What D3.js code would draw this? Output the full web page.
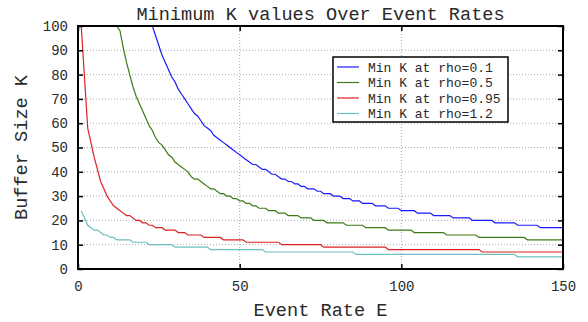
<!DOCTYPE html>
<html>
<head>
<meta charset="utf-8">
<script src="https://cdn.jsdelivr.net/npm/d3@7"></script>
<style>
  body { margin: 0; background: #fff; }
  text { font-family: "Liberation Mono", "DejaVu Sans Mono", monospace; fill: #2a2a2a; }
</style>
</head>
<body>
<script>
// Minimum K (buffer size) per event rate E.
// Each list holds [E, K] vertices; flat runs only keep their two ends.
const rho01 = [[1,100],[23,100],[24,96],[25,92],[26,88],[27,85],[28,82],[29,79],[30,77],[31,74],[32,72],
  [33,70],[34,68],[35,66],[36,64],[37,63],[38,61],[39,59],[40,58],[41,57],[42,55],[43,54],[44,53],[45,52],
  [46,51],[47,50],[48,49],[49,48],[50,47],[51,46],[52,45],[53,44],[54,43],[55,43],[56,42],[57,41],[58,41],
  [59,40],[60,39],[61,39],[62,38],[63,37],[64,37],[65,36],[66,36],[67,35],[68,35],[69,34],[70,34],[71,33],
  [73,33],[74,32],[75,32],[76,31],[78,31],[79,30],[81,30],[82,29],[84,29],[85,28],[87,28],[88,27],[91,27],
  [92,26],[95,26],[96,25],[99,25],[100,24],[104,24],[105,23],[109,23],[110,22],[115,22],[116,21],[121,21],
  [122,20],[128,20],[129,19],[135,19],[136,18],[142,18],[143,17],[150,17]];
const rho05 = [[1,100],[12,100],[13,98],[14,91],[15,85],[16,80],[17,75],[18,71],[19,68],[20,65],[21,62],
  [22,59],[23,57],[24,54],[25,52],[26,51],[27,49],[28,47],[29,46],[30,44],[31,43],[32,42],[33,41],[34,40],
  [35,38],[36,37],[37,37],[38,36],[39,35],[40,34],[41,33],[42,33],[43,32],[44,31],[45,31],[46,30],[47,30],
  [48,29],[49,29],[50,28],[51,28],[52,27],[53,27],[54,26],[55,26],[56,25],[58,25],[59,24],[61,24],[62,23],
  [64,23],[65,22],[68,22],[69,21],[72,21],[73,20],[76,20],[77,19],[82,19],[83,18],[88,18],[89,17],[95,17],
  [96,16],[103,16],[104,15],[113,15],[114,14],[123,14],[124,13],[138,13],[139,12],[150,12]];
const rho095 = [[1,100],[2,79],[3,58],[4,52],[5,46],[6,41],[7,36],[8,33],[9,30],[10,28],[11,26],[12,25],
  [13,24],[14,23],[15,22],[16,22],[17,21],[18,20],[19,20],[20,19],[21,19],[22,18],[23,18],[24,17],[26,17],
  [27,16],[30,16],[31,15],[33,15],[34,14],[38,14],[39,13],[44,13],[45,12],[51,12],[52,11],[62,11],[63,10],
  [75,10],[76,9],[95,9],[96,8],[124,8],[125,7],[150,7]];
const rho12 = [[1,24],[2,21],[3,18],[4,17],[5,16],[6,16],[7,15],[8,14],[9,14],[10,13],[11,13],[12,12],
  [16,12],[17,11],[21,11],[22,10],[29,10],[30,9],[40,9],[41,8],[57,8],[58,7],[85,7],[86,6],[135,6],
  [136,5],[150,5]];

const seriesNames = ['Min K at rho=0.1', 'Min K at rho=0.5', 'Min K at rho=0.95', 'Min K at rho=1.2'];
const seriesColors = ['#1a1aff', '#3d7a16', '#dd2222', '#6cc0c0'];
const xTicks = [0, 50, 100, 150];
const yTicks = [0, 10, 20, 30, 40, 50, 60, 70, 80, 90, 100];

const WIDTH = 588, HEIGHT = 322;
const margin = {top: 26, right: 25, bottom: 53, left: 78};

const svg = d3.select('body').append('svg')
  .attr('width', WIDTH).attr('height', HEIGHT);

const x = d3.scaleLinear().domain([0, 150]).range([margin.left, WIDTH - margin.right]);
const y = d3.scaleLinear().domain([0, 100]).range([HEIGHT - margin.bottom, margin.top]);

// dotted grid
svg.append('g').selectAll('line.gy')
  .data(yTicks.slice(1, -1)).join('line')
  .attr('x1', x(0)).attr('x2', x(150))
  .attr('y1', d => y(d)).attr('y2', d => y(d))
  .attr('stroke', '#aaa').attr('stroke-width', 1).attr('stroke-dasharray', '1,2');
svg.append('g').selectAll('line.gx')
  .data(xTicks.slice(1, -1)).join('line')
  .attr('y1', y(0)).attr('y2', y(100))
  .attr('x1', d => x(d)).attr('x2', d => x(d))
  .attr('stroke', '#aaa').attr('stroke-width', 1).attr('stroke-dasharray', '1,2');

// the curves
const line = d3.line().x(d => x(d[0])).y(d => y(d[1]));
[rho01, rho05, rho095, rho12].forEach((s, i) => {
  svg.append('path').datum(s)
    .attr('d', line)
    .attr('fill', 'none')
    .attr('stroke', seriesColors[i])
    .attr('stroke-width', 1.2);
});

// axes: ticks point inwards on all four sides
const axisStyle = g => {
  g.select('.domain').remove();
  g.selectAll('.tick line').attr('stroke', '#000').attr('stroke-width', 1.5);
  g.selectAll('text').style('font-family', '"Liberation Mono", monospace')
    .style('font-size', '14px');
};
svg.append('g').attr('transform', `translate(0,${y(0)})`)
  .call(d3.axisBottom(x).tickValues(xTicks).tickSizeInner(-5).tickPadding(12))
  .call(axisStyle);
svg.append('g').attr('transform', `translate(0,${y(100)})`)
  .call(d3.axisTop(x).tickValues(xTicks).tickSizeInner(-5).tickFormat(''))
  .call(axisStyle);
svg.append('g').attr('transform', `translate(${x(0)},0)`)
  .call(d3.axisLeft(y).tickValues(yTicks).tickSizeInner(-5).tickPadding(10))
  .call(axisStyle);
svg.append('g').attr('transform', `translate(${x(150)},0)`)
  .call(d3.axisRight(y).tickValues(yTicks).tickSizeInner(-5).tickFormat(''))
  .call(axisStyle);

// frame
svg.append('rect')
  .attr('x', x(0)).attr('y', y(100))
  .attr('width', x(150) - x(0)).attr('height', y(0) - y(100))
  .attr('fill', 'none').attr('stroke', '#000').attr('stroke-width', 2);

// titles
svg.append('text').attr('x', (x(0) + x(150)) / 2).attr('y', 20)
  .attr('text-anchor', 'middle').style('font-size', '18.6px')
  .text('Minimum K values Over Event Rates');
svg.append('text').attr('x', (x(0) + x(150)) / 2).attr('y', 316)
  .attr('text-anchor', 'middle').style('font-size', '18.6px')
  .text('Event Rate E');
svg.append('text')
  .attr('transform', `translate(27,${(y(0) + y(100)) / 2}) rotate(-90)`)
  .attr('text-anchor', 'middle').style('font-size', '18.6px')
  .text('Buffer Size K');

// legend
const legend = svg.append('g').attr('transform', 'translate(333,57)');
legend.append('rect').attr('width', 175).attr('height', 65)
  .attr('fill', '#fff').attr('stroke', '#000').attr('stroke-width', 1.5);
seriesNames.forEach((name, i) => {
  const row = legend.append('g').attr('transform', `translate(0,${10 + i * 15.5})`);
  row.append('line').attr('x1', 4).attr('x2', 26)
    .attr('stroke', seriesColors[i]).attr('stroke-width', 1.2);
  row.append('text').attr('x', 35).attr('dy', '0.35em')
    .style('font-size', '13px').text(name);
});
</script>
</body>
</html>
